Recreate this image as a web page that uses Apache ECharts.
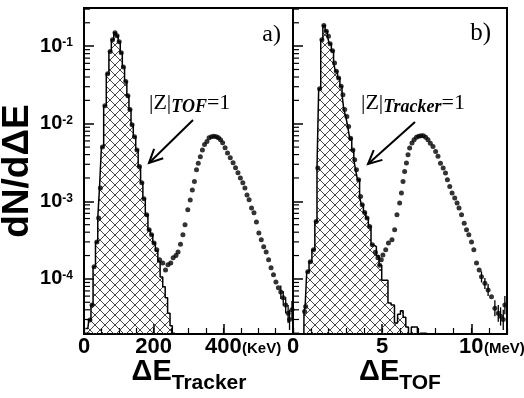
<!DOCTYPE html>
<html>
<head>
<meta charset="utf-8">
<script src="https://cdn.jsdelivr.net/npm/echarts@6/dist/echarts.min.js"></script>
<style>
html, body { margin: 0; padding: 0; background: #fff; }
#chart { width: 524px; height: 398px; }
</style>
</head>
<body>
<div id="chart"></div>
<script>
// panel a) : Tracker dE (keV), all particles (dots) and |Z|_TOF=1 selection (hatched)
const tkrPtsX = [17, 23, 29, 37, 42, 47, 53, 60, 68, 75, 82, 89, 95, 101, 107, 113, 120, 126, 132, 138,
  145, 152, 159, 166, 172, 180, 187, 194, 201, 209, 217, 226, 234, 241, 249, 256, 264, 270, 277, 284,
  290, 298, 305, 311, 317, 323, 328, 334, 340, 346, 353, 359, 366, 373, 380, 386, 392, 398, 405, 412,
  420, 428, 435, 442, 449, 456, 462, 468, 474, 481, 488, 495, 502, 509, 516, 523, 530, 537, 544, 551,
  558, 565, 572, 579, 586, 590, 597];
const tkrPtsY = [2.96e-5, 4.6e-5, 1.43e-4, 3.0e-4, 6.1e-4, 1.49e-3, 5.0e-3, 1.7e-2, 4.4e-2, 8.5e-2,
  0.121, 0.149, 0.136, 0.114, 0.082, 0.054, 0.035, 0.023, 0.0152, 9.7e-3,
  6.8e-3, 4.6e-3, 2.8e-3, 1.73e-3, 1.08e-3, 6.7e-4, 4.3e-4, 3.7e-4, 2.9e-4, 2.37e-4,
  1.76e-4, 1.6e-4, 1.3e-4, 1.52e-4, 1.6e-4, 1.87e-4, 2.0e-4, 2.23e-4, 2.8e-4, 3.7e-4,
  5.0e-4, 7.8e-4, 1.04e-3, 1.4e-3, 1.8e-3, 2.55e-3, 3.1e-3, 3.75e-3, 4.6e-3, 5.4e-3,
  5.9e-3, 6.6e-3, 6.8e-3, 6.9e-3, 6.8e-3, 6.6e-3, 6.2e-3, 5.7e-3, 4.9e-3, 4.2e-3,
  3.64e-3, 3.14e-3, 2.7e-3, 2.33e-3, 2.0e-3, 1.73e-3, 1.49e-3, 1.21e-3, 1.05e-3, 8.2e-4,
  7.1e-4, 5.4e-4, 3.9e-4, 3.2e-4, 2.6e-4, 2.23e-4, 1.76e-4, 1.39e-4, 1.13e-4, 9.1e-5,
  7.7e-5, 6.8e-5, 5.7e-5, 4.6e-5, 3.6e-5, 3.0e-5, 4.0e-5];
const tkrHistX = [4, 11, 17, 23, 29, 37, 42, 47, 53, 60, 68, 75, 82, 89, 95, 101, 107, 113, 120, 126,
  132, 138, 145, 152, 159, 166, 172, 180, 187, 194, 201, 209, 215, 222, 230, 236, 244, 250, 257, 264];
const tkrHistY = [2.3e-5, 2.3e-5, 2.96e-5, 4.6e-5, 1.43e-4, 3.0e-4, 6.1e-4, 1.49e-3, 5.0e-3, 1.7e-2,
  4.4e-2, 8.5e-2, 0.121, 0.149, 0.136, 0.114, 0.082, 0.054, 0.035, 0.023,
  0.0152, 9.7e-3, 6.8e-3, 4.6e-3, 2.8e-3, 1.73e-3, 1.08e-3, 6.7e-4, 4.3e-4, 3.7e-4,
  2.9e-4, 2.3e-4, 1.66e-4, 1.06e-4, 7.9e-5, 5.7e-5, 3.6e-5, 2.5e-5, 2.0e-5, 1e-7];
const tkrErrX = [565, 572, 579, 586, 590, 597];
const tkrErrLo = [5.5e-5, 4.5e-5, 3.6e-5, 2.7e-5, 2.2e-5, 3.0e-5];
const tkrErrHi = [8.2e-5, 7.0e-5, 5.8e-5, 4.6e-5, 4.0e-5, 5.2e-5];

// panel b) : TOF dE (MeV), all particles (dots) and |Z|_Tracker=1 selection (hatched)
const tofPtsX = [0.65, 0.71, 0.83, 0.97, 1.15, 1.30, 1.39, 1.49, 1.62, 1.73,
  1.87, 1.99, 2.08, 2.22, 2.33, 2.43, 2.56, 2.70, 2.80, 2.90,
  3.02, 3.12, 3.23, 3.36, 3.46, 3.56, 3.68, 3.79, 3.88, 4.02,
  4.15, 4.30, 4.45, 4.62, 4.76, 4.86, 4.95, 5.04, 5.20, 5.35,
  5.55, 5.70, 5.83, 5.98, 6.08, 6.17, 6.26, 6.36, 6.45, 6.54,
  6.67, 6.79, 6.92, 7.05, 7.18, 7.31, 7.44, 7.57, 7.70, 7.85,
  8.00, 8.13, 8.27, 8.42, 8.55, 8.66, 8.79, 8.92, 9.07, 9.20,
  9.31, 9.45, 9.60, 9.73, 9.86, 10.01, 10.14, 10.29, 10.44, 10.57,
  10.76, 10.94, 11.13, 11.32, 11.51, 11.64, 11.79, 11.88];
const tofPtsY = [3.8e-5, 4.4e-5, 1.24e-4, 1.67e-4, 2.37e-4, 5.5e-4, 2.68e-3, 2.83e-2, 0.121, 0.185,
  0.155, 0.134, 0.107, 0.0875, 0.0607, 0.0473, 0.0389, 0.0303, 0.0237, 0.0152,
  0.0124, 9.2e-3, 6.5e-3, 4.6e-3, 3.43e-3, 2.55e-3, 1.89e-3, 1.15e-3, 9.0e-4, 7.2e-4,
  6.1e-4, 4.75e-4, 2.75e-4, 2.2e-4, 1.87e-4, 1.5e-4, 1.76e-4, 2.04e-4, 2.37e-4, 2.9e-4,
  3.2e-4, 4.3e-4, 6.7e-4, 9.5e-4, 1.28e-3, 1.8e-3, 2.42e-3, 3.11e-3, 3.98e-3, 4.85e-3,
  5.64e-3, 6.2e-3, 6.7e-3, 6.9e-3, 7.0e-3, 7.0e-3, 6.7e-3, 6.2e-3, 5.6e-3, 5.1e-3,
  4.4e-3, 3.8e-3, 3.1e-3, 2.68e-3, 2.31e-3, 1.89e-3, 1.55e-3, 1.28e-3, 1.1e-3, 9.5e-4,
  8.2e-4, 6.7e-4, 5.2e-4, 4.3e-4, 3.7e-4, 3.0e-4, 2.37e-4, 1.6e-4, 1.3e-4, 1.07e-4,
  8.8e-5, 7.2e-5, 5.9e-5, 4.2e-5, 3.6e-5, 3.3e-5, 3.0e-5, 4.6e-5];
const tofHistX = [0.58, 0.65, 0.71, 0.83, 0.97, 1.15, 1.30, 1.39, 1.49, 1.62,
  1.73, 1.87, 1.99, 2.08, 2.22, 2.33, 2.43, 2.56, 2.70, 2.80,
  2.90, 3.02, 3.12, 3.23, 3.36, 3.46, 3.56, 3.68, 3.79, 3.88,
  4.02, 4.15, 4.30, 4.45, 4.60, 4.75, 4.90, 5.05, 5.25, 5.40,
  5.60, 5.78, 5.95, 6.10, 6.25, 6.40, 6.55, 6.72, 6.90, 7.05,
  7.22, 7.40, 7.58];
const tofHistY = [1e-7, 3.8e-5, 4.4e-5, 1.24e-4, 1.67e-4, 2.37e-4, 5.5e-4, 2.68e-3, 2.83e-2, 0.121,
  0.185, 0.155, 0.134, 0.107, 0.0875, 0.0607, 0.0473, 0.0389, 0.0303, 0.0237,
  0.0152, 0.0124, 9.2e-3, 6.5e-3, 4.6e-3, 3.43e-3, 2.55e-3, 1.89e-3, 1.15e-3, 9.0e-4,
  7.2e-4, 6.1e-4, 4.75e-4, 2.75e-4, 2.6e-4, 2.0e-4, 1.5e-4, 9.6e-5, 9.6e-5, 4.9e-5,
  4.6e-5, 2.7e-5, 3.5e-5, 3.9e-5, 3.2e-5, 2.4e-5, 1e-7, 2.4e-5, 2.4e-5, 1e-7,
  2.0e-5, 2.0e-5, 1e-7];
const tofErrX = [10.57, 10.76, 10.94, 11.32, 11.51, 11.64, 11.79, 11.88];
const tofErrLo = [9.0e-5, 7.4e-5, 6.0e-5, 3.3e-5, 2.8e-5, 2.5e-5, 2.2e-5, 3.5e-5];
const tofErrHi = [1.25e-4, 1.03e-4, 8.6e-5, 5.3e-5, 4.6e-5, 4.3e-5, 4.0e-5, 6.0e-5];

// minor ticks of the log axis
const yMinorTicks = [2e-5, 3e-5, 4e-5, 5e-5, 6e-5, 7e-5, 8e-5, 9e-5,
  2e-4, 3e-4, 4e-4, 5e-4, 6e-4, 7e-4, 8e-4, 9e-4,
  2e-3, 3e-3, 4e-3, 5e-3, 6e-3, 7e-3, 8e-3, 9e-3,
  2e-2, 3e-2, 4e-2, 5e-2, 6e-2, 7e-2, 8e-2, 9e-2,
  2e-1, 3e-1];

const yMin = 1.95e-5;
const yMax = 0.31;

const SANS = '"Liberation Sans", Arial, sans-serif';
const SERIF = '"Liberation Serif", "Times New Roman", serif';

const zip = (xs, ys) => xs.map((x, i) => [x, ys[i]]);

function hatchCanvas() {
  const c = document.createElement("canvas");
  c.width = 10;
  c.height = 10;
  const g = c.getContext("2d");
  g.strokeStyle = "#333";
  g.lineWidth = 0.9;
  g.beginPath();
  g.moveTo(-1, -1); g.lineTo(11, 11);
  g.moveTo(11, -1); g.lineTo(-1, 11);
  g.stroke();
  return c;
}
const hatch = hatchCanvas();

function arrow(x1, y1, x2, y2) {
  const a = Math.atan2(y1 - y2, x1 - x2);
  const len = 15, spread = 0.45;
  return [
    { type: "line", shape: { x1, y1, x2, y2 }, style: { stroke: "#000", lineWidth: 2 } },
    {
      type: "polyline",
      shape: {
        points: [
          [x2 + len * Math.cos(a + spread), y2 + len * Math.sin(a + spread)],
          [x2, y2],
          [x2 + len * Math.cos(a - spread), y2 + len * Math.sin(a - spread)]
        ]
      },
      style: { stroke: "#000", lineWidth: 2, fill: "none" }
    }
  ];
}

const yLabelRich = {
  n: { fontSize: 20, fontWeight: "bold", fontFamily: SANS, color: "#000", lineHeight: 20, verticalAlign: "top" },
  s: { fontSize: 12, fontWeight: "bold", fontFamily: SANS, color: "#000", lineHeight: 12, verticalAlign: "top", padding: [1, 0, 0, 0] }
};

const titleRich = {
  m: { fontSize: 29, fontWeight: "bold", fontFamily: SANS, fill: "#000", lineHeight: 30, verticalAlign: "top" },
  s: { fontSize: 21, fontWeight: "bold", fontFamily: SANS, fill: "#000", lineHeight: 21, verticalAlign: "top", padding: [16, 0, 0, 0] }
};

const noteRich = {
  m: { fontSize: 22, fontFamily: SERIF, fill: "#000", lineHeight: 22, verticalAlign: "top" },
  s: { fontSize: 18, fontFamily: SERIF, fontStyle: "italic", fontWeight: "bold", fill: "#000", lineHeight: 18, verticalAlign: "top", padding: [6, 0, 0, 0] }
};

function mainX(gridIndex, max, interval) {
  return {
    gridIndex,
    type: "value",
    min: 0,
    max,
    interval,
    axisLine: { lineStyle: { color: "#000", width: 2 } },
    axisTick: { inside: true, length: 10, lineStyle: { color: "#000", width: 1.5 } },
    splitLine: { show: false },
    axisLabel: {
      margin: 2,
      hideOverlap: false,
      fontSize: 22,
      fontWeight: "bold",
      fontFamily: SANS,
      color: "#000",
      formatter: v => (v % interval !== 0 || v === max) ? "" : String(v)
    }
  };
}

function minorX(gridIndex, max, interval) {
  return {
    gridIndex,
    type: "value",
    min: 0,
    max,
    interval,
    position: "bottom",
    axisLine: { show: false },
    axisTick: { inside: true, length: 6, lineStyle: { color: "#000", width: 1.2 } },
    axisLabel: { show: false },
    splitLine: { show: false }
  };
}

function logY(gridIndex, showLabels) {
  return {
    gridIndex,
    type: "log",
    logBase: 10,
    min: yMin,
    max: yMax,
    axisLine: { lineStyle: { color: "#000", width: 2 } },
    axisTick: { inside: true, length: 10, lineStyle: { color: "#000", width: 1.5 } },
    splitLine: { show: false },
    axisLabel: {
      show: showLabels,
      margin: 11,
      showMinLabel: false,
      showMaxLabel: false,
      formatter: v => {
        const l = Math.log10(v);
        const e = Math.round(l);
        if (Math.abs(l - e) > 1e-6) return "";
        return "{n|10}{s|" + e + "}";
      },
      rich: yLabelRich
    },
    name: gridIndex === 0 ? "dN/d\u0394E" : "",
    nameLocation: "middle",
    nameRotate: 90,
    nameGap: 43,
    nameTextStyle: { fontSize: 37, fontWeight: "bold", fontFamily: SANS, color: "#000" }
  };
}

function histSeries(idx, xs, ys) {
  return {
    type: "line",
    xAxisIndex: idx,
    yAxisIndex: idx,
    data: zip(xs, ys),
    step: "middle",
    symbol: "none",
    clip: true,
    lineStyle: { color: "#000", width: 1.5 },
    areaStyle: { color: { image: hatch, repeat: "repeat" }, origin: "start", opacity: 1 },
    z: 2,
    silent: true
  };
}

function pointSeries(idx, xs, ys) {
  return {
    type: "scatter",
    xAxisIndex: idx,
    yAxisIndex: idx,
    data: zip(xs, ys),
    symbol: "circle",
    symbolSize: 5,
    itemStyle: { color: "#000" },
    clip: true,
    z: 4,
    silent: true
  };
}

function errorSeries(idx, xs, lo, hi) {
  return {
    type: "custom",
    xAxisIndex: idx,
    yAxisIndex: idx,
    data: xs.map((x, i) => [x, lo[i], hi[i]]),
    renderItem: (params, api) => {
      const a = api.coord([api.value(0), api.value(1)]);
      const b = api.coord([api.value(0), api.value(2)]);
      return {
        type: "line",
        shape: { x1: a[0], y1: a[1], x2: b[0], y2: b[1] },
        style: { stroke: "#000", lineWidth: 1.3 }
      };
    },
    z: 4,
    silent: true
  };
}

function minorYSeries(idx) {
  return {
    type: "custom",
    xAxisIndex: idx,
    yAxisIndex: idx,
    data: yMinorTicks.map(v => [0, v]),
    renderItem: (params, api) => {
      const p = api.coord([0, api.value(1)]);
      const x0 = params.coordSys.x;
      return {
        type: "line",
        shape: { x1: x0, y1: p[1], x2: x0 + 6, y2: p[1] },
        style: { stroke: "#000", lineWidth: 1.2 }
      };
    },
    z: 5,
    silent: true
  };
}

function unitText(x, text) {
  return {
    type: "text", x, y: 349,
    style: {
      text, font: "bold 15px " + SANS, fill: "#000",
      align: "left", textAlign: "left", verticalAlign: "middle", textVerticalAlign: "middle"
    }
  };
}

function titleText(x, sub) {
  return {
    type: "text", x, y: 357,
    style: {
      text: "{m|\u0394E}{s|" + sub + "}",
      align: "center", textAlign: "center", verticalAlign: "top", textVerticalAlign: "top",
      rich: titleRich
    }
  };
}

function noteText(x, sub) {
  return {
    type: "text", x, y: 92,
    style: {
      text: "{m||Z|}{s|" + sub + "}{m|=1}",
      align: "left", textAlign: "left", verticalAlign: "top", textVerticalAlign: "top",
      rich: noteRich
    }
  };
}

const chart = echarts.init(document.getElementById("chart"), null, { renderer: "canvas" });

chart.setOption({
  animation: false,
  backgroundColor: "#fff",
  grid: [
    { left: 84, top: 8, width: 209, height: 326, outerBoundsMode: "none", containLabel: false, show: true, borderColor: "#000", borderWidth: 2, backgroundColor: "transparent" },
    { left: 293, top: 8, width: 214, height: 326, outerBoundsMode: "none", containLabel: false, show: true, borderColor: "#000", borderWidth: 2, backgroundColor: "transparent" }
  ],
  xAxis: [
    mainX(0, 600, 200),
    mainX(1, 12, 5),
    minorX(0, 600, 50),
    minorX(1, 12, 1)
  ],
  yAxis: [logY(0, true), logY(1, false)],
  series: [
    histSeries(0, tkrHistX, tkrHistY),
    pointSeries(0, tkrPtsX, tkrPtsY),
    errorSeries(0, tkrErrX, tkrErrLo, tkrErrHi),
    minorYSeries(0),
    histSeries(1, tofHistX, tofHistY),
    pointSeries(1, tofPtsX, tofPtsY),
    errorSeries(1, tofErrX, tofErrLo, tofErrHi),
    minorYSeries(1)
  ],
  graphic: [
    unitText(242, "(KeV)"),
    unitText(484, "(MeV)"),
    titleText(189, "Tracker"),
    titleText(400, "TOF"),
    {
      type: "text", x: 281, y: 35,
      style: { text: "a)", font: "24px " + SERIF, fill: "#000", align: "right", textAlign: "right", verticalAlign: "middle", textVerticalAlign: "middle" }
    },
    {
      type: "text", x: 491, y: 33,
      style: { text: "b)", font: "25px " + SERIF, fill: "#000", align: "right", textAlign: "right", verticalAlign: "middle", textVerticalAlign: "middle" }
    },
    noteText(149, "TOF"),
    noteText(361, "Tracker"),
    ...arrow(193, 120, 149, 163),
    ...arrow(415, 122, 368, 164)
  ]
});
</script>
</body>
</html>
